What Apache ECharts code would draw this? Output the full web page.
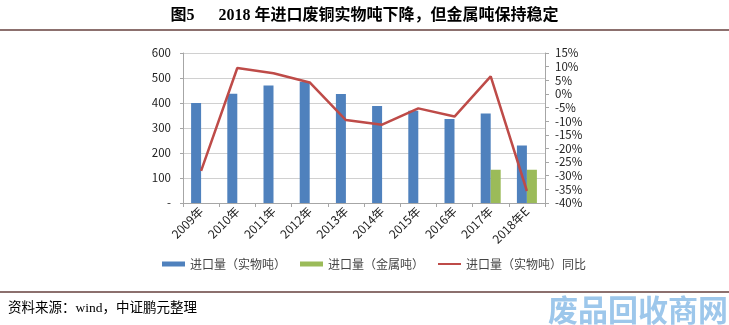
<!DOCTYPE html>
<html>
<head>
<meta charset="utf-8">
<title>2018年进口废铜</title>
<script src="https://cdn.jsdelivr.net/npm/echarts@6/dist/echarts.min.js"></script>
<style>
  html, body { margin: 0; padding: 0; background: #fff; }
  #chart { width: 729px; height: 325px; }
</style>
</head>
<body>
<div id="chart"></div>
<script>
// Annual scrap copper imports, with 2018 estimate
const years = ['2009年', '2010年', '2011年', '2012年', '2013年', '2014年', '2015年', '2016年', '2017年', '2018年E'];
const physicalTons = [400, 437, 470, 485, 436, 388, 369, 336, 358, 230];   // 进口量（实物吨）, 万吨
const metalTons = [null, null, null, null, null, null, null, null, 133, 133]; // 进口量（金属吨）
const yoyPct = [-28.2, 9.5, 7.6, 4.2, -9.6, -11.3, -5.3, -8.3, 6.4, -35.6];  // 实物吨同比, %

const leftTicks = { min: 0, max: 600, step: 100 };
const rightTicks = { min: -40, max: 15, step: 5 };

const sans = '"Noto Sans CJK SC", "Noto Sans", sans-serif';
const serif = '"Liberation Serif", "DejaVu Serif", "Noto Sans CJK SC", serif';
const ruleColor = '#8c706e';

const chart = echarts.init(document.getElementById('chart'), null, { renderer: 'canvas' });

chart.setOption({
  backgroundColor: '#ffffff',
  animation: false,
  title: {
    text: '图5      2018 年进口废铜实物吨下降，但金属吨保持稳定',
    left: 'center',
    top: 3,
    textStyle: { fontFamily: serif, fontSize: 16, fontWeight: 'bold', color: '#000' }
  },
  graphic: [
    { type: 'rect', shape: { x: 0, y: 29, width: 729, height: 2 }, style: { fill: ruleColor } },
    { type: 'rect', shape: { x: 0, y: 291, width: 729, height: 2 }, style: { fill: ruleColor } },
    {
      type: 'text', left: 8, top: 302,
      style: { text: '资料来源：wind，中证鹏元整理', fontFamily: serif, fontSize: 13.5, fill: '#000' }
    },
    {
      type: 'text', left: 548, top: 295,
      style: { text: '废品回收商网', fontFamily: sans, fontSize: 30, fontWeight: 'bold', fill: '#8cbde8', opacity: 0.85 }
    }
  ],
  legend: {
    left: 157,
    top: 253,
    itemGap: 14,
    itemWidth: 23,
    itemHeight: 5,
    textStyle: { fontFamily: sans, fontSize: 12, color: '#444' },
    data: [
      { name: '进口量（实物吨）', icon: 'rect' },
      { name: '进口量（金属吨）', icon: 'rect' },
      { name: '进口量（实物吨）同比', icon: 'path://M0,0 L23,0 L23,2 L0,2 Z' }
    ]
  },
  grid: { left: 183, right: 184, top: 53, bottom: 122 },
  xAxis: {
    type: 'category',
    data: years,
    axisLine: { lineStyle: { color: '#a6a6a6' } },
    axisTick: { show: true, length: 4, lineStyle: { color: '#a6a6a6' } },
    axisLabel: { rotate: 45, margin: 6, fontFamily: sans, fontSize: 12, color: '#222', interval: 0 }
  },
  yAxis: [
    {
      type: 'value',
      min: leftTicks.min, max: leftTicks.max, interval: leftTicks.step,
      axisLine: { show: true, lineStyle: { color: '#a6a6a6' } },
      axisTick: { show: true, length: 3, lineStyle: { color: '#a6a6a6' } },
      splitLine: { lineStyle: { color: '#d0d0d0' } },
      axisLabel: {
        fontFamily: sans, fontSize: 11.5, color: '#222', margin: 12,
        formatter: v => (v === 0 ? '-' : String(v))
      }
    },
    {
      type: 'value',
      min: rightTicks.min, max: rightTicks.max, interval: rightTicks.step,
      position: 'right',
      axisLine: { show: true, lineStyle: { color: '#a6a6a6' } },
      axisTick: { show: true, length: 4, lineStyle: { color: '#a6a6a6' } },
      splitLine: { show: false },
      axisLabel: { fontFamily: sans, fontSize: 11.5, color: '#222', margin: 10, formatter: v => v + '%' }
    }
  ],
  series: [
    {
      name: '进口量（实物吨）',
      type: 'bar',
      data: physicalTons,
      barWidth: 10,
      barGap: '0%',
      itemStyle: { color: '#4f81bd' }
    },
    {
      name: '进口量（金属吨）',
      type: 'bar',
      data: metalTons,
      barWidth: 10,
      barGap: '0%',
      itemStyle: { color: '#9bbb59' }
    },
    {
      name: '进口量（实物吨）同比',
      type: 'line',
      yAxisIndex: 1,
      data: yoyPct,
      symbol: 'none',
      lineStyle: { color: '#be4b48', width: 2.5 },
      itemStyle: { color: '#be4b48' },
      z: 5
    }
  ]
});
</script>
</body>
</html>
